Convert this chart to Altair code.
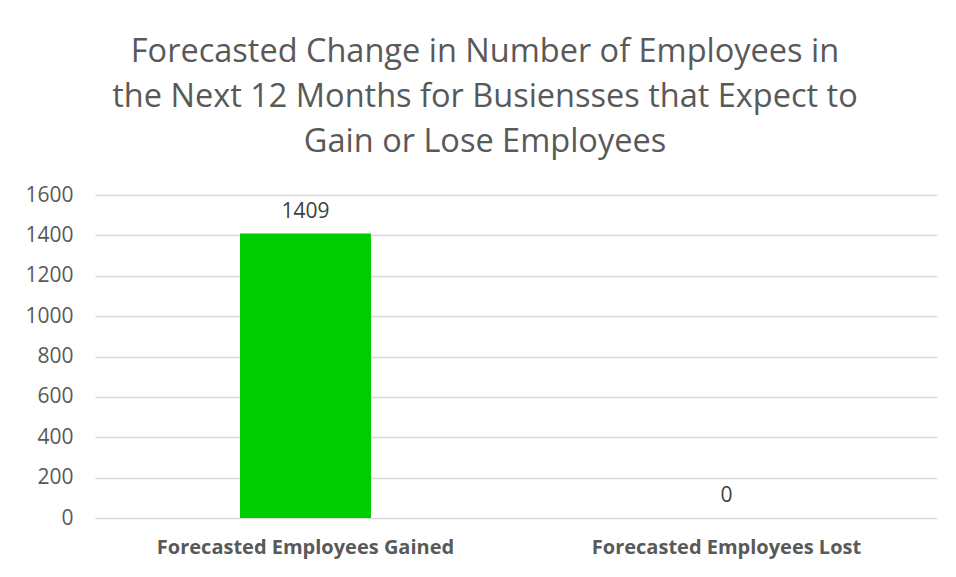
import altair as alt
import pandas as pd

categories = ["Forecasted Employees Gained", "Forecasted Employees Lost"]
values = [1409, 0]
y_ticks = [0, 200, 400, 600, 800, 1000, 1200, 1400, 1600]
title_lines = ["Forecasted Change in Number of Employees in",
               "the Next 12 Months for Busiensses that Expect to",
               "Gain or Lose Employees"]

df = pd.DataFrame({"category": categories, "value": values})

FONT = "Open Sans"
GRAY = "#595959"

base = alt.Chart(df).encode(
    x=alt.X("category:N", sort=categories, title=None,
            scale=alt.Scale(paddingInner=0, paddingOuter=0),
            axis=alt.Axis(labelAngle=0, labelFontWeight="bold", labelFontSize=20,
                          labelColor=GRAY, labelFont=FONT, labelPadding=19,
                          labelLimit=0, ticks=False, domain=False)),
    y=alt.Y("value:Q", title=None,
            scale=alt.Scale(domain=[0, 1600]),
            axis=alt.Axis(values=y_ticks, format="d", labelFontSize=21, labelColor=GRAY,
                          labelFont=FONT, labelPadding=22, ticks=False,
                          domain=False, gridColor="#d9d9d9", gridWidth=1.5)),
)

bars = base.mark_bar(color="#00cc00", size=131)
labels = base.mark_text(baseline="bottom", dy=-12, fontSize=21, color="#404040",
                        font=FONT).encode(text="value:Q")

chart = alt.layer(bars, labels).properties(
    width=842, height=323,
    autosize=alt.AutoSizeParams(type="none"),
    padding={"left": 87, "top": 187, "right": 10, "bottom": 50},
    title=alt.TitleParams(title_lines, fontSize=32.5, font=FONT, color=GRAY,
                          fontWeight="normal", lineHeight=45, anchor="middle",
                          frame="group", dx=-31, offset=26),
).configure_view(stroke=None)

chart.save("out.html", embed_options={"renderer": "svg", "actions": False})
